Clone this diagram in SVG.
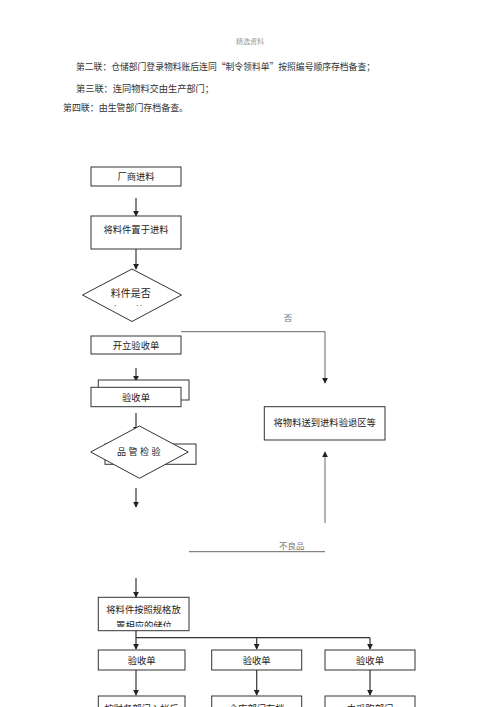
<svg xmlns="http://www.w3.org/2000/svg" width="500" height="707" viewBox="0 0 500 707">
<style>
.hdr{font-family:"Noto Sans CJK SC","Liberation Serif",serif;font-size:9.2px;fill:#333}
.lbl{font-family:"Noto Sans CJK SC","Liberation Sans",sans-serif;font-size:9.3px;fill:#222;text-anchor:middle}
.gl{font-family:"Noto Sans CJK SC","Liberation Serif",serif;font-size:8.5px;fill:#777;text-anchor:middle}
.box{fill:#fff;stroke:#333;stroke-width:1}
.ln{fill:none;stroke:#333;stroke-width:1.2}
.gln{fill:none;stroke:#555;stroke-width:0.9}
</style>
<defs>
<marker id="ah" viewBox="0 0 8 8" refX="7" refY="4" markerWidth="6" markerHeight="6" markerUnits="userSpaceOnUse" orient="auto">
<path d="M0,0 L8,4 L0,8 z" fill="#222"/>
</marker>
<clipPath id="c1"><rect x="80" y="260" width="120" height="46"/></clipPath>
<clipPath id="c2"><rect x="95" y="598" width="100" height="29"/></clipPath>
</defs>
<rect width="500" height="707" fill="#fff"/>
<g id="header">
<text x="250" y="44" class="gl" style="font-size:7px;fill:#999">精选资料</text>
<text x="76" y="70" class="hdr" textLength="299" lengthAdjust="spacingAndGlyphs">第二联：仓储部门登录物料账后连同“制令领料单”按照编号顺序存档备查；</text>
<text x="76" y="91.5" class="hdr" textLength="138" lengthAdjust="spacingAndGlyphs">第三联：连同物料交由生产部门；</text>
<text x="63" y="110.5" class="hdr" textLength="125" lengthAdjust="spacingAndGlyphs">第四联：由生管部门存档备查。</text>
</g>
<g id="connectors">
<line x1="136" y1="198" x2="136" y2="216" class="ln" marker-end="url(#ah)"/>
<line x1="136" y1="249" x2="136" y2="269" class="ln" marker-end="url(#ah)"/>
<polyline points="181,331.7 325,331.7 325,383" class="gln" marker-end="url(#ah)"/>
<line x1="136" y1="368" x2="136" y2="381" class="ln" marker-end="url(#ah)"/>
<line x1="136" y1="413" x2="136" y2="432" class="ln" marker-end="url(#ah)"/>
<line x1="136" y1="488" x2="136" y2="507" class="ln" marker-end="url(#ah)"/>
<line x1="325" y1="523" x2="325" y2="452" class="gln" marker-end="url(#ah)"/>
<line x1="189" y1="551.7" x2="325" y2="551.7" class="gln"/>
<line x1="136" y1="578" x2="136" y2="597" class="ln" marker-end="url(#ah)"/>
<polyline points="136,631 136,637.7 370,637.7" class="ln"/>
<line x1="136" y1="637.7" x2="136" y2="649" class="ln" marker-end="url(#ah)"/>
<line x1="256.7" y1="637.7" x2="256.7" y2="649" class="ln" marker-end="url(#ah)"/>
<line x1="370" y1="637.7" x2="370" y2="649" class="ln" marker-end="url(#ah)"/>
<line x1="136" y1="670" x2="136" y2="695" class="ln" marker-end="url(#ah)"/>
<line x1="256.7" y1="670" x2="256.7" y2="695" class="ln" marker-end="url(#ah)"/>
<line x1="370" y1="670" x2="370" y2="695" class="ln" marker-end="url(#ah)"/>
</g>
<g id="labels">
<text x="288" y="321" class="gl">否</text>
<text x="291.7" y="549" class="gl">不良品</text>
</g>
<g id="n1"><rect x="91" y="167" width="90" height="19" class="box"/><text x="136" y="180.3" class="lbl">厂商进料</text></g>
<g id="n2"><rect x="91" y="216" width="90" height="33" class="box"/><text x="136" y="232.5" class="lbl">将料件置于进料</text></g>
<g id="n3"><polygon points="132,269 181.5,295 132,321.5 82.5,295" class="box"/><text x="130.7" y="296.5" class="lbl" style="font-size:10px">料件是否</text><text class="lbl" style="font-size:10px" clip-path="url(#c1)"><tspan x="115" y="313.5">合</tspan><tspan x="140" y="313.5">格</tspan></text></g>
<g id="n4"><rect x="91" y="336" width="90" height="18" class="box"/><text x="136" y="348.5" class="lbl">开立验收单</text></g>
<g id="n5"><rect x="98.3" y="380" width="90.7" height="20" class="box"/><rect x="91" y="387.3" width="90" height="19.4" class="box"/><text x="136" y="400.5" class="lbl">验收单</text></g>
<g id="n6"><rect x="105" y="444" width="91" height="20.3" class="box"/><polygon points="139.5,426 188.3,452 139.5,478.3 90.7,452" class="box"/><text x="140" y="455" class="lbl" style="font-size:9px;letter-spacing:2.5px">品管检验</text></g>
<g id="n7"><rect x="264.3" y="406.7" width="120.7" height="33.3" class="box"/><text x="324.7" y="426" class="lbl">将物料送到进料验退区等</text></g>
<g id="n8"><rect x="98.3" y="597.3" width="90.7" height="33.4" class="box"/><text x="143.5" y="613" class="lbl">将料件按照规格放</text><text x="144" y="628.5" class="lbl" clip-path="url(#c2)">置相应的储位</text></g>
<g id="n9"><rect x="98.3" y="650" width="86.7" height="20" class="box"/><text x="141.6" y="663.5" class="lbl">验收单</text></g>
<g id="n10"><rect x="211.7" y="650" width="90" height="20" class="box"/><text x="256.7" y="663.5" class="lbl">验收单</text></g>
<g id="n11"><rect x="325" y="650" width="90" height="20" class="box"/><text x="370" y="663.5" class="lbl">验收单</text></g>
<g id="n12"><rect x="98.3" y="696" width="86.7" height="20" class="box"/><text x="141.6" y="711.5" class="lbl">按财务部门入帐后</text></g>
<g id="n13"><rect x="211.7" y="696" width="90" height="20" class="box"/><text x="256.7" y="711.5" class="lbl">仓库部门存档</text></g>
<g id="n14"><rect x="325" y="696" width="90" height="20" class="box"/><text x="370" y="711.5" class="lbl">由采购部门</text></g>
</svg>
